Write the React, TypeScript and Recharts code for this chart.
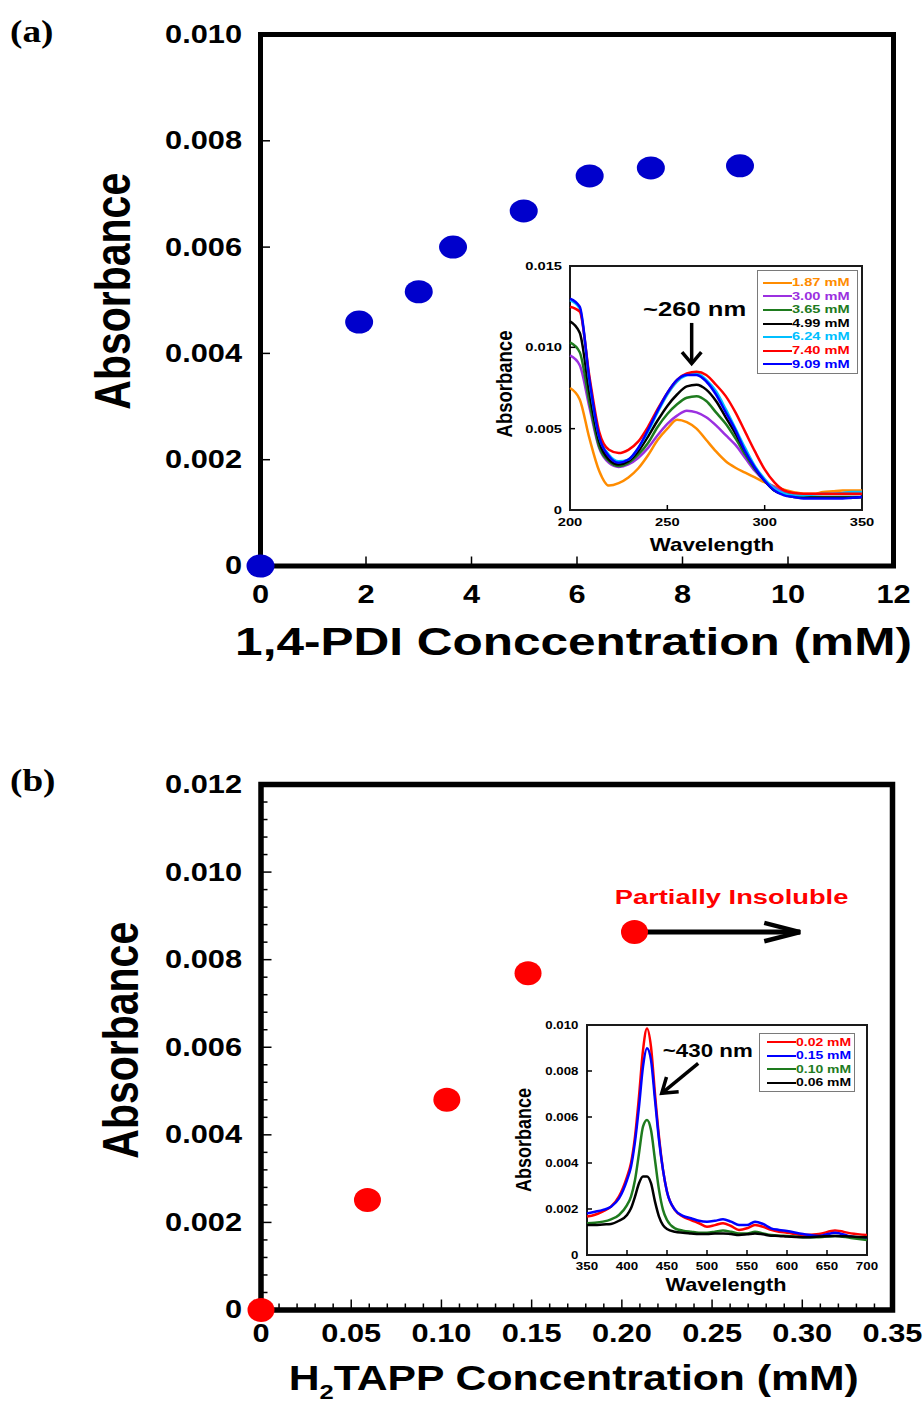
import React from 'react';
import {
  ScatterChart,
  Scatter,
  LineChart,
  Line,
  XAxis,
  YAxis,
  ReferenceArea,
  ReferenceLine,
  ReferenceDot,
  Legend,
} from 'recharts';

const SANS = '"Liberation Sans", Arial, Helvetica, sans-serif';
const SERIF = '"Liberation Serif", "Times New Roman", serif';

// ---- panel (a): 1,4-PDI titration ----
const pdiConc = [0, 1.87, 3.0, 3.65, 4.99, 6.24, 7.4, 9.09];
const pdiAbs = [0, 0.00459, 0.00516, 0.006, 0.00668, 0.00734, 0.00749, 0.00753];
const pdiXTicks = [0, 2, 4, 6, 8, 10, 12];
const pdiYTicks = [0, 0.002, 0.004, 0.006, 0.008, 0.01];

// inset (a) spectra
const wlA = [200, 205, 210, 215, 220, 225, 230, 235, 240, 245, 250, 255, 260, 265, 270, 275, 280, 285, 290, 295, 300, 305, 310, 315, 320, 325, 330, 335, 340, 345, 350];
const s187 = [0.0075, 0.0068, 0.0044, 0.0024, 0.0015, 0.00165, 0.002, 0.00255, 0.00335, 0.0043, 0.005, 0.00555, 0.0054, 0.005, 0.0043, 0.0036, 0.003, 0.0026, 0.0023, 0.002, 0.0017, 0.00145, 0.00125, 0.0011, 0.001, 0.001, 0.0011, 0.00115, 0.0012, 0.0012, 0.0012];
const s300 = [0.0095, 0.0089, 0.0063, 0.0038, 0.0029, 0.00265, 0.0028, 0.0032, 0.0038, 0.0046, 0.0053, 0.0058, 0.0061, 0.006, 0.0057, 0.0052, 0.0046, 0.004, 0.0032, 0.0024, 0.0018, 0.0014, 0.0011, 0.0009, 0.0008, 0.0008, 0.0008, 0.0008, 0.0008, 0.0008, 0.0008];
const s365 = [0.0103, 0.0097, 0.0066, 0.0039, 0.003, 0.0027, 0.0029, 0.0034, 0.0041, 0.0051, 0.0059, 0.0065, 0.0069, 0.007, 0.0067, 0.006, 0.0053, 0.0044, 0.0034, 0.0025, 0.0018, 0.0012, 0.001, 0.0009, 0.0008, 0.0008, 0.0008, 0.0008, 0.0008, 0.0008, 0.0008];
const s499 = [0.0116, 0.0109, 0.0072, 0.0042, 0.0031, 0.0028, 0.003, 0.0036, 0.0045, 0.0055, 0.0064, 0.0071, 0.0076, 0.0077, 0.0074, 0.0067, 0.0057, 0.0047, 0.0036, 0.0026, 0.0018, 0.0012, 0.00095, 0.0008, 0.00075, 0.00075, 0.00075, 0.00075, 0.00075, 0.00075, 0.0008];
const s624 = [0.0129, 0.0124, 0.0079, 0.0045, 0.0034, 0.003, 0.0031, 0.0038, 0.0048, 0.006, 0.0071, 0.0079, 0.0083, 0.0084, 0.008, 0.0073, 0.0062, 0.005, 0.0038, 0.0027, 0.0019, 0.0013, 0.001, 0.0009, 0.0009, 0.00095, 0.001, 0.001, 0.00105, 0.0011, 0.0011];
const s740 = [0.0125, 0.0122, 0.0082, 0.0048, 0.0037, 0.0035, 0.0037, 0.0042, 0.0051, 0.0062, 0.0072, 0.008, 0.0084, 0.0085, 0.0083, 0.0077, 0.007, 0.006, 0.0048, 0.0036, 0.0025, 0.0017, 0.0012, 0.00105, 0.001, 0.001, 0.001, 0.001, 0.001, 0.001, 0.001];
const s909 = [0.013, 0.0125, 0.008, 0.0045, 0.0033, 0.0029, 0.0031, 0.0038, 0.0049, 0.0061, 0.0072, 0.008, 0.0083, 0.0083, 0.0079, 0.0071, 0.006, 0.0049, 0.0036, 0.0026, 0.0018, 0.0012, 0.0009, 0.0008, 0.0007, 0.0007, 0.0007, 0.0007, 0.0007, 0.00075, 0.0008];
const insetAXTicks = [200, 250, 300, 350];
const insetAYTicks = [0, 0.005, 0.01, 0.015];

// ---- panel (b): H2TAPP titration ----
const tappConc = [0, 0.059, 0.103, 0.148, 0.207];
const tappAbs = [0, 0.00251, 0.0048, 0.00769, 0.00863];

// inset (b) spectra
const wlB = [350, 360, 370, 380, 390, 400, 405, 410, 415, 420, 425, 430, 435, 440, 445, 450, 460, 470, 480, 490, 500, 510, 520, 530, 540, 550, 560, 570, 580, 590, 600, 620, 640, 660, 680, 700];
const t002 = [0.00167, 0.00175, 0.0019, 0.0021, 0.00255, 0.0034, 0.004, 0.00515, 0.0069, 0.0089, 0.00985, 0.00905, 0.007, 0.00515, 0.0037, 0.00275, 0.00195, 0.00167, 0.00152, 0.00138, 0.00123, 0.0013, 0.00138, 0.00126, 0.00109, 0.00116, 0.0013, 0.00123, 0.00109, 0.00101, 0.00097, 0.00087, 0.00091, 0.00106, 0.00094, 0.00087];
const t015 = [0.00181, 0.00188, 0.00196, 0.0021, 0.00246, 0.00326, 0.00384, 0.00493, 0.00645, 0.00819, 0.00899, 0.00848, 0.00674, 0.005, 0.0037, 0.00275, 0.00196, 0.0017, 0.0016, 0.00149, 0.00145, 0.00149, 0.00155, 0.00145, 0.0013, 0.0013, 0.00145, 0.00135, 0.00116, 0.00109, 0.00104, 0.00091, 0.00083, 0.00097, 0.0008, 0.00072];
const t010 = [0.00138, 0.0014, 0.00145, 0.00155, 0.00174, 0.00217, 0.00254, 0.00326, 0.00442, 0.00558, 0.00587, 0.00543, 0.00413, 0.00283, 0.00196, 0.00152, 0.00116, 0.00106, 0.00101, 0.00097, 0.00097, 0.00101, 0.00106, 0.00101, 0.00094, 0.00094, 0.00101, 0.00094, 0.00087, 0.00084, 0.00083, 0.00077, 0.00077, 0.00083, 0.00074, 0.00065];
const t006 = [0.0013, 0.0013, 0.00133, 0.00135, 0.00149, 0.00174, 0.00203, 0.00254, 0.00312, 0.00341, 0.00341, 0.00312, 0.00232, 0.00167, 0.0013, 0.00113, 0.00101, 0.00097, 0.00094, 0.00091, 0.00091, 0.00094, 0.00094, 0.00091, 0.00087, 0.0009, 0.00094, 0.0009, 0.00084, 0.00083, 0.0008, 0.00077, 0.0008, 0.00083, 0.0008, 0.00077];
const insetBXTicks = [350, 400, 450, 500, 550, 600, 650, 700];
const insetBYTicks = [0, 0.002, 0.004, 0.006, 0.008, 0.01];

// main (b) ticks: minor every 0.01 / 0.0004, labelled every 0.05 / 0.002
const tappXTicks = Array.from({ length: 36 }, (_, i) => Number((i * 0.01).toFixed(2)));
const tappYTicks = Array.from({ length: 31 }, (_, i) => Number((i * 0.0004).toFixed(4)));

const pdiPoints = pdiConc.map((x, i) => ({ x, y: pdiAbs[i] }));
const tappPoints = tappConc.map((x, i) => ({ x, y: tappAbs[i] }));
const spectraA = wlA.map((w, i) => ({ w, a: s187[i], b: s300[i], c: s365[i], d: s499[i], e: s624[i], f: s740[i], g: s909[i] }));
const spectraB = wlB.map((w, i) => ({ w, a: t002[i], b: t015[i], c: t010[i], d: t006[i] }));

// text with the slight horizontal stretch the original figure has
function SText({ x, y, size, children, anchor = 'middle', fill = '#000', sx = 1.22, vertical = false, family = SANS }: any) {
  const t = vertical
    ? `translate(${x},${y}) rotate(-90) scale(1,${sx})`
    : `translate(${x},${y}) scale(${sx},1)`;
  return (
    <g transform={t}>
      <text x={0} y={0} fontSize={size} fontWeight="bold" fontFamily={family} textAnchor={anchor} dominantBaseline="central" fill={fill}>
        {children}
      </text>
    </g>
  );
}

type TickOpts = {
  side: 'bottom' | 'top' | 'left' | 'right';
  ends: number[];
  major?: (v: number) => boolean;
  majorLen: number;
  minorLen?: number;
  width: number;
  color?: string;
  label?: (v: number) => string;
  size?: number;
  offset?: number;
  sx?: number;
};

// inward ticks drawn from the axis line; labels only on majors; no tick line in the corners
function makeTick(o: TickOpts) {
  return (props: any) => {
    const { x, y, payload } = props;
    const v = payload.value;
    const isMajor = o.major ? o.major(v) : true;
    const atEnd = o.ends.some((e) => Math.abs(e - v) < 1e-9);
    const len = atEnd ? 0 : isMajor ? o.majorLen : o.minorLen ?? 0;
    let x2 = x;
    let y2 = y;
    if (o.side === 'bottom') y2 = y - len;
    if (o.side === 'top') y2 = y + len;
    if (o.side === 'left') x2 = x + len;
    if (o.side === 'right') x2 = x - len;
    let text = null;
    if (o.label && isMajor) {
      const s = o.label(v);
      if (o.side === 'bottom') {
        text = <SText x={x} y={y + (o.offset ?? 0)} size={o.size} sx={o.sx}>{s}</SText>;
      } else if (o.side === 'left') {
        text = <SText x={x - (o.offset ?? 0)} y={y} size={o.size} sx={o.sx} anchor="end">{s}</SText>;
      }
    }
    return (
      <g>
        {len > 0 && <line x1={x} y1={y} x2={x2} y2={y2} stroke={o.color ?? '#000'} strokeWidth={o.width} />}
        {text}
      </g>
    );
  };
}

function arrowShape(head: number, spread: number, width: number, headWidth: number) {
  return (p: any) => {
    const { x1, y1, x2, y2 } = p;
    const ang = Math.atan2(y2 - y1, x2 - x1);
    const a1 = ang + Math.PI - spread;
    const a2 = ang + Math.PI + spread;
    const pts = `${x2 + head * Math.cos(a1)},${y2 + head * Math.sin(a1)} ${x2},${y2} ${x2 + head * Math.cos(a2)},${y2 + head * Math.sin(a2)}`;
    return (
      <g>
        <line x1={x1} y1={y1} x2={x2} y2={y2} stroke="#000" strokeWidth={width} />
        <polyline points={pts} fill="none" stroke="#000" strokeWidth={headWidth} strokeLinejoin="miter" />
      </g>
    );
  };
}

function SpectraLegend(props: any) {
  const { payload = [], boxWidth, rowHeight, pad, fontSize } = props;
  return (
    <div
      style={{
        width: boxWidth,
        boxSizing: 'border-box',
        border: '1.5px solid #7a7a7a',
        background: '#fff',
        padding: pad,
      }}
    >
      {payload.map((p: any) => (
        <div key={p.value} style={{ display: 'flex', alignItems: 'center', height: rowHeight }}>
          <span style={{ display: 'inline-block', width: 29, height: 2, background: p.color }} />
          <span
            style={{
              color: p.color,
              fontFamily: SANS,
              fontWeight: 'bold',
              fontSize,
              lineHeight: 1,
              display: 'inline-block',
              transform: 'scaleX(1.27)',
              transformOrigin: 'left center',
              whiteSpace: 'nowrap',
            }}
          >
            {p.value}
          </span>
        </div>
      ))}
    </div>
  );
}

const fmt3 = (v: number) => (v === 0 ? '0' : v.toFixed(3));
const fmt2 = (v: number) => (v === 0 ? '0' : v.toFixed(2));
const fmt0 = (v: number) => String(v);
const isMult = (step: number) => (v: number) => Math.abs(v / step - Math.round(v / step)) < 1e-6;

// axes are 1px thick (0 makes recharts skip them); margins below account for that
const axisBase = { type: 'number' as const, interval: 0 as const, tickSize: 0, tickMargin: 0, axisLine: false, tickLine: false };

function PdiChart() {
  const xe = [0, 12];
  const ye = [0, 0.01];
  return (
    <ScatterChart width={923} height={700} margin={{ top: 33.5, right: 28.5, bottom: 133, left: 259.5 }}>
      <ReferenceArea x1={0} x2={12} y1={0} y2={0.01} fill="none" stroke="#000" strokeWidth={5} />
      <XAxis
        {...axisBase}
        dataKey="x"
        domain={[0, 12]}
        ticks={pdiXTicks}
        height={1}
        tick={makeTick({ side: 'bottom', ends: xe, majorLen: 9.5, width: 1.5, label: fmt0, size: 25, offset: 29, sx: 1.23 })}
        label={(p: any) => {
          const vb = p.viewBox ?? { x: 0, y: 0, width: 0, height: 0 };
          return <SText x={vb.x + vb.width / 2 - 3.5} y={vb.y + 75} size={39} sx={1.27}>1,4-PDI Conccentration (mM)</SText>;
        }}
      />
      <XAxis {...axisBase} xAxisId="top" orientation="top" domain={[0, 12]} ticks={pdiXTicks} height={1} tick={makeTick({ side: 'top', ends: xe, majorLen: 9.5, width: 1.5 })} />
      <YAxis
        {...axisBase}
        dataKey="y"
        domain={[0, 0.01]}
        ticks={pdiYTicks}
        width={1}
        tick={makeTick({ side: 'left', ends: ye, majorLen: 9.5, width: 1.5, label: fmt3, size: 25, offset: 18.5, sx: 1.23 })}
        label={(p: any) => {
          const vb = p.viewBox ?? { x: 0, y: 0, width: 0, height: 0 };
          return <SText vertical x={vb.x + vb.width - 147.5} y={vb.y + vb.height / 2 - 9} size={41} sx={1.22}>Absorbance</SText>;
        }}
      />
      <YAxis {...axisBase} yAxisId="right" orientation="right" domain={[0, 0.01]} ticks={pdiYTicks} width={1} tick={makeTick({ side: 'right', ends: ye, majorLen: 9.5, width: 1.5 })} />
      <Scatter
        data={pdiPoints}
        fill="#0000cc"
        isAnimationActive={false}
        zIndex={2000}
        shape={(p: any) => <ellipse cx={p.cx} cy={p.cy} rx={14} ry={11.5} fill="#0000cc" />}
      />
    </ScatterChart>
  );
}

function PdiInset() {
  const xe = [200, 350];
  const ye = [0, 0.015];
  return (
    <LineChart width={400} height={310} data={spectraA} margin={{ top: 15, right: 17, bottom: 49, left: 89 }}>
      <XAxis
        {...axisBase}
        dataKey="w"
        domain={[200, 350]}
        ticks={insetAXTicks}
        height={1}
        tick={makeTick({ side: 'bottom', ends: xe, majorLen: 5, width: 1.5, label: fmt0, size: 11.5, offset: 12, sx: 1.28 })}
        label={(p: any) => {
          const vb = p.viewBox ?? { x: 0, y: 0, width: 0, height: 0 };
          return <SText x={vb.x + vb.width / 2 - 4} y={vb.y + 35} size={18} sx={1.24}>Wavelength</SText>;
        }}
      />
      <XAxis {...axisBase} xAxisId="top" orientation="top" domain={[200, 350]} ticks={insetAXTicks} height={1} tick={makeTick({ side: 'top', ends: xe, majorLen: 5, width: 1.5 })} />
      <YAxis
        {...axisBase}
        domain={[0, 0.015]}
        ticks={insetAYTicks}
        width={1}
        tick={makeTick({ side: 'left', ends: ye, majorLen: 5, width: 1.5, label: fmt3, size: 11.5, offset: 8, sx: 1.28 })}
        label={(p: any) => {
          const vb = p.viewBox ?? { x: 0, y: 0, width: 0, height: 0 };
          return <SText vertical x={vb.x + vb.width - 66} y={vb.y + vb.height / 2 - 4} size={18.5} sx={1.2}>Absorbance</SText>;
        }}
      />
      <YAxis {...axisBase} yAxisId="right" orientation="right" domain={[0, 0.015]} ticks={insetAYTicks} width={1} tick={makeTick({ side: 'right', ends: ye, majorLen: 5, width: 1.5 })} />
      <ReferenceArea x1={200} x2={350} y1={0} y2={0.015} fill="none" stroke="#1a1a1a" strokeWidth={2} />
      <Line dataKey="a" name="1.87 mM" stroke="#ff8c00" strokeWidth={2.5} dot={false} type="monotone" isAnimationActive={false} />
      <Line dataKey="b" name="3.00 mM" stroke="#9b30e0" strokeWidth={2.5} dot={false} type="monotone" isAnimationActive={false} />
      <Line dataKey="c" name="3.65 mM" stroke="#1e7b1e" strokeWidth={2.5} dot={false} type="monotone" isAnimationActive={false} />
      <Line dataKey="d" name="4.99 mM" stroke="#000000" strokeWidth={2.5} dot={false} type="monotone" isAnimationActive={false} />
      <Line dataKey="e" name="6.24 mM" stroke="#00bfff" strokeWidth={2.5} dot={false} type="monotone" isAnimationActive={false} />
      <Line dataKey="f" name="7.40 mM" stroke="#ff0000" strokeWidth={2.5} dot={false} type="monotone" isAnimationActive={false} />
      <Line dataKey="g" name="9.09 mM" stroke="#0000ff" strokeWidth={2.5} dot={false} type="monotone" isAnimationActive={false} />
      <ReferenceLine segment={[{ x: 262.5, y: 0.0115 }, { x: 262.5, y: 0.009 }]} shape={arrowShape(15, 0.7, 3.5, 3.5)} />
      <ReferenceDot x={264} y={0.01235} r={0} shape={(p: any) => <SText x={p.cx} y={p.cy} size={20} sx={1.28}>~260 nm</SText>} />
      <Legend
        layout="horizontal"
        verticalAlign="middle"
        align="center"
        itemSorter="dataKey"
        wrapperStyle={{ left: 277, top: 20, width: 101 }}
        content={(p: any) => <SpectraLegend {...p} boxWidth={101} rowHeight={13.6} pad="5px 0 2px 4.5px" fontSize={11.5} />}
      />
    </LineChart>
  );
}

function TappChart() {
  const xe = [0, 0.35];
  const ye = [0, 0.012];
  return (
    <ScatterChart width={923} height={704} margin={{ top: 79.5, right: 29.5, bottom: 97, left: 260 }}>
      <ReferenceArea x1={0} x2={0.35} y1={0} y2={0.012} fill="none" stroke="#000" strokeWidth={5.5} />
      <XAxis
        {...axisBase}
        dataKey="x"
        domain={[0, 0.35]}
        ticks={tappXTicks}
        height={1}
        tick={makeTick({ side: 'bottom', ends: xe, major: isMult(0.05), majorLen: 10.5, minorLen: 6.5, width: 1.5, label: fmt2, size: 25, offset: 24, sx: 1.23 })}
        label={(p: any) => {
          const vb = p.viewBox ?? { x: 0, y: 0, width: 0, height: 0 };
          return (
            <g transform={`translate(${vb.x + vb.width / 2 - 3},${vb.y + 67}) scale(1.22,1)`}>
              <text x={0} y={0} fontSize={35} fontWeight="bold" fontFamily={SANS} textAnchor="middle" dominantBaseline="central">
                <tspan>H</tspan>
                <tspan dy={15} fontSize={21}>2</tspan>
                <tspan dy={-15}>TAPP Concentration (mM)</tspan>
              </text>
            </g>
          );
        }}
      />
      <XAxis {...axisBase} xAxisId="top" orientation="top" domain={[0, 0.35]} ticks={tappXTicks} height={1} tick={makeTick({ side: 'top', ends: xe, major: isMult(0.05), majorLen: 10.5, minorLen: 6.5, width: 1.5 })} />
      <YAxis
        {...axisBase}
        dataKey="y"
        domain={[0, 0.012]}
        ticks={tappYTicks}
        width={1}
        tick={makeTick({ side: 'left', ends: ye, major: isMult(0.002), majorLen: 10.5, minorLen: 6.5, width: 1.5, label: fmt3, size: 25, offset: 19, sx: 1.23 })}
        label={(p: any) => {
          const vb = p.viewBox ?? { x: 0, y: 0, width: 0, height: 0 };
          return <SText vertical x={vb.x + vb.width - 140} y={vb.y + vb.height / 2 - 7} size={41} sx={1.22}>Absorbance</SText>;
        }}
      />
      <YAxis {...axisBase} yAxisId="right" orientation="right" domain={[0, 0.012]} ticks={tappYTicks} width={1} tick={makeTick({ side: 'right', ends: ye, major: isMult(0.002), majorLen: 10.5, minorLen: 6.5, width: 1.5 })} />
      <Scatter
        data={tappPoints}
        fill="#ff0000"
        isAnimationActive={false}
        zIndex={2000}
        shape={(p: any) => <ellipse cx={p.cx} cy={p.cy} rx={13.5} ry={12} fill="#ff0000" />}
      />
      <ReferenceLine segment={[{ x: 0.2034, y: 0.00863 }, { x: 0.2988, y: 0.00863 }]} shape={arrowShape(37, 0.25, 5, 4.5)} />
      <ReferenceDot x={0.2608} y={0.00943} r={0} shape={(p: any) => <SText x={p.cx} y={p.cy} size={21} sx={1.3} fill="#ff0000">Partially Insoluble</SText>} />
    </ScatterChart>
  );
}

function TappInset() {
  const xe = [350, 700];
  const ye = [0, 0.01];
  return (
    <LineChart width={390} height={290} data={spectraB} margin={{ top: 14, right: 22, bottom: 44, left: 86 }}>
      <XAxis
        {...axisBase}
        dataKey="w"
        domain={[350, 700]}
        ticks={insetBXTicks}
        height={1}
        tick={makeTick({ side: 'bottom', ends: xe, majorLen: 5, width: 1.5, label: fmt0, size: 10.7, offset: 11, sx: 1.25 })}
        label={(p: any) => {
          const vb = p.viewBox ?? { x: 0, y: 0, width: 0, height: 0 };
          return <SText x={vb.x + vb.width / 2 - 1} y={vb.y + 30} size={17.5} sx={1.24}>Wavelength</SText>;
        }}
      />
      <XAxis {...axisBase} xAxisId="top" orientation="top" domain={[350, 700]} ticks={insetBXTicks} height={1} tick={makeTick({ side: 'top', ends: xe, majorLen: 5, width: 1.5 })} />
      <YAxis
        {...axisBase}
        domain={[0, 0.01]}
        ticks={insetBYTicks}
        width={1}
        tick={makeTick({ side: 'left', ends: ye, majorLen: 5, width: 1.5, label: fmt3, size: 10.7, offset: 8.5, sx: 1.24 })}
        label={(p: any) => {
          const vb = p.viewBox ?? { x: 0, y: 0, width: 0, height: 0 };
          return <SText vertical x={vb.x + vb.width - 64} y={vb.y + vb.height / 2} size={18} sx={1.2}>Absorbance</SText>;
        }}
      />
      <YAxis {...axisBase} yAxisId="right" orientation="right" domain={[0, 0.01]} ticks={insetBYTicks} width={1} tick={makeTick({ side: 'right', ends: ye, majorLen: 5, width: 1.5 })} />
      <ReferenceArea x1={350} x2={700} y1={0} y2={0.01} fill="none" stroke="#1a1a1a" strokeWidth={2} />
      <Line dataKey="a" name="0.02 mM" stroke="#ff0000" strokeWidth={2.5} dot={false} type="monotone" isAnimationActive={false} />
      <Line dataKey="b" name="0.15 mM" stroke="#0000ff" strokeWidth={2.5} dot={false} type="monotone" isAnimationActive={false} />
      <Line dataKey="c" name="0.10 mM" stroke="#1e7b1e" strokeWidth={2.5} dot={false} type="monotone" isAnimationActive={false} />
      <Line dataKey="d" name="0.06 mM" stroke="#000000" strokeWidth={2.5} dot={false} type="monotone" isAnimationActive={false} />
      <ReferenceLine segment={[{ x: 489, y: 0.00833 }, { x: 443.4, y: 0.00703 }]} shape={arrowShape(17, 0.6, 3.5, 3.5)} />
      <ReferenceDot x={501} y={0.00887} r={0} shape={(p: any) => <SText x={p.cx} y={p.cy} size={18} sx={1.24}>~430 nm</SText>} />
      <Legend
        layout="horizontal"
        verticalAlign="middle"
        align="center"
        itemSorter="dataKey"
        wrapperStyle={{ left: 259, top: 23, width: 96 }}
        content={(p: any) => <SpectraLegend {...p} boxWidth={96} rowHeight={13.4} pad="1.8px 0 1.8px 6.5px" fontSize={11} />}
      />
    </LineChart>
  );
}

export default function App() {
  return (
    <div style={{ position: 'absolute', left: 0, top: 0, width: 923, height: 1408, background: '#fff', overflow: 'hidden' }}>
      <div style={{ position: 'absolute', left: 0, top: 0 }}>
        <PdiChart />
      </div>
      <div style={{ position: 'absolute', left: 480, top: 250 }}>
        <PdiInset />
      </div>
      <div style={{ position: 'absolute', left: 0, top: 704 }}>
        <TappChart />
      </div>
      <div style={{ position: 'absolute', left: 500, top: 1010 }}>
        <TappInset />
      </div>
      <svg width={923} height={1408} style={{ position: 'absolute', left: 0, top: 0, pointerEvents: 'none' }}>
        <g transform="translate(10,42) scale(1.2,1)">
          <text fontFamily={SERIF} fontWeight="bold" fontSize={31}>(a)</text>
        </g>
        <g transform="translate(10,791) scale(1.2,1)">
          <text fontFamily={SERIF} fontWeight="bold" fontSize={31}>(b)</text>
        </g>
      </svg>
    </div>
  );
}
